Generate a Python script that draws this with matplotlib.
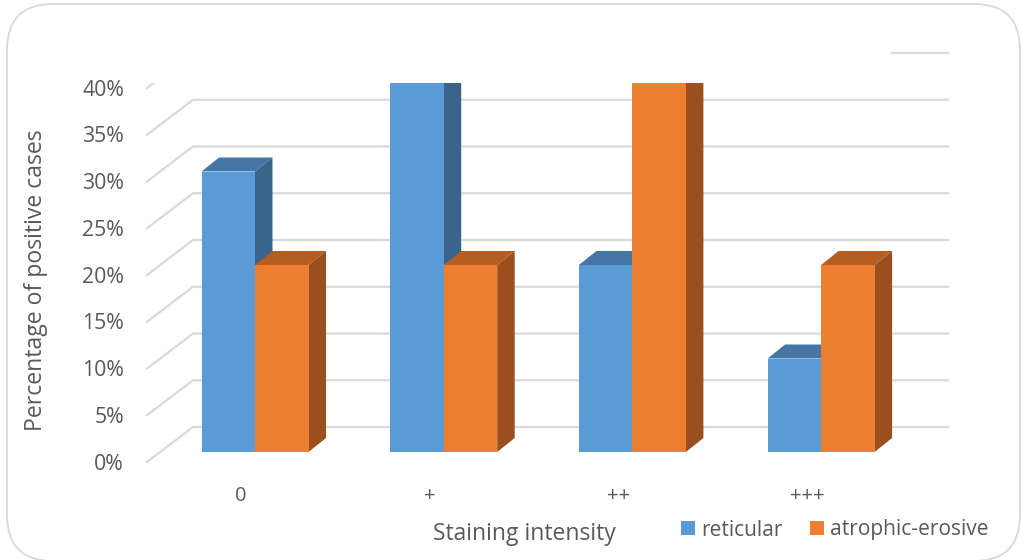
import matplotlib
matplotlib.use("Agg")
import matplotlib.pyplot as plt
from matplotlib.patches import Polygon, Rectangle, FancyBboxPatch

# ---------------- data ----------------
categories = ["0", "+", "++", "+++"]
reticular = [30, 40, 20, 10]
atrophic_erosive = [20, 20, 40, 20]
series_names = ["reticular", "atrophic-erosive"]
y_ticks = [0, 5, 10, 15, 20, 25, 30, 35, 40]
y_tick_labels = [f"{t}%" for t in y_ticks]
x_title = "Staining intensity"
y_title = "Percentage of positive cases"

# ---------------- style ----------------
plt.rcParams['font.family'] = ['Open Sans', 'DejaVu Sans']
TXT = '#595959'
GRID = '#d9d9d9'
COLORS = {
    "reticular": ("#5b9bd5", "#4676a4", "#3b648b"),
    "atrophic-erosive": ("#ed7d31", "#b65d22", "#9b4f1e"),
}

W, H = 1022, 560
fig = plt.figure(figsize=(W / 100, H / 100), dpi=100)
ax = fig.add_axes([0, 0, 1, 1])
PX_X = 188.7   # pixels per category
PX_Y = 9.35    # pixels per percent
X0, Y0 = 255, 452  # pixel position of category 0 centre / 0% on front plane
ax.set_xlim(-X0 / PX_X, (W - X0) / PX_X)
ax.set_ylim((Y0 - H) / PX_Y, Y0 / PX_Y)
ax.axis('off')


def dx(px):
    return px / PX_X


def dy(px):
    return px / PX_Y


def fx(px):
    return px / W


def fy(py):
    return 1 - py / H


# clipping rectangle (top of plot area)
ymax_clip = dy(Y0 - 83)
clip = Rectangle((-10, -50), 30, ymax_clip + 50, transform=ax.transData)

# ---------------- walls / gridlines ----------------
xl_front = dx(147 - X0)
xl_back = dx(193 - X0)
xr_back = dx(948 - X0)
for v in y_ticks:
    ln, = ax.plot([xl_front, xl_back, xr_back],
                  [v - dy(10), v + dy(25), v + dy(25)],
                  color=GRID, lw=1.6, solid_joinstyle='miter', zorder=1)
    ln.set_clip_path(clip)
# visible remnant of the top gridline
ax.plot([dx(892 - X0), xr_back], [y_ticks[-1] + dy(25)] * 2,
        color=GRID, lw=1.6, zorder=1)

# ---------------- bars ----------------
w = dx(53.5)
ddx, ddy = dx(17.5), dy(14)
for i, cat in enumerate(categories):
    for j, (name, vals) in enumerate(zip(series_names, [reticular, atrophic_erosive])):
        v = vals[i]
        x0 = i - w + j * w
        x1 = x0 + w
        front, top, side = COLORS[name]
        z = 3 + i * 2 + j
        pt = Polygon([(x0, v), (x1, v), (x1 + ddx, v + ddy), (x0 + ddx, v + ddy)],
                     closed=True, facecolor=top, edgecolor='none', zorder=z)
        ps = Polygon([(x1, 0), (x1 + ddx, ddy), (x1 + ddx, v + ddy), (x1, v)],
                     closed=True, facecolor=side, edgecolor='none', zorder=z)
        pf = Rectangle((x0, 0), w, v, facecolor=front, edgecolor='none', zorder=z)
        for p in (pt, ps, pf):
            ax.add_patch(p)
            p.set_clip_path(clip)

# ---------------- texts ----------------
for v, lab in zip(y_ticks, y_tick_labels):
    ax.text(dx(124 - X0), v - dy(12), lab, ha='right', va='center',
            fontsize=15.3, color=TXT)
for i, cat in enumerate(categories):
    ax.text(i - dx(14), dy(Y0 - 496), cat, ha='center', va='center',
            fontsize=14.5, color=TXT)

fig.text(fx(524), fy(534), x_title, ha='center', va='center', fontsize=16.5, color=TXT)
fig.text(fx(36), fy(280), y_title, ha='center', va='center', rotation=90,
         fontsize=16.6, color=TXT)

# legend
leg_sq = [681, 810]
leg_tx = [701, 830]
for name, sx, tx in zip(series_names, leg_sq, leg_tx):
    fig.patches.append(Rectangle((fx(sx), fy(535)), fx(14), 14 / H,
                                 transform=fig.transFigure,
                                 facecolor=COLORS[name][0], edgecolor='none'))
    fig.text(fx(tx), fy(530), name, ha='left', va='center', fontsize=15.1, color=TXT)

# chart border
fig.patches.append(FancyBboxPatch((fx(7), fy(561)), fx(1013), (561 - 4) / H,
                                  boxstyle="round,pad=0,rounding_size=0.045",
                                  transform=fig.transFigure, facecolor='none',
                                  edgecolor=GRID, lw=1.3, mutation_aspect=W / H))

fig.savefig("out.png", dpi=100, facecolor='white')
